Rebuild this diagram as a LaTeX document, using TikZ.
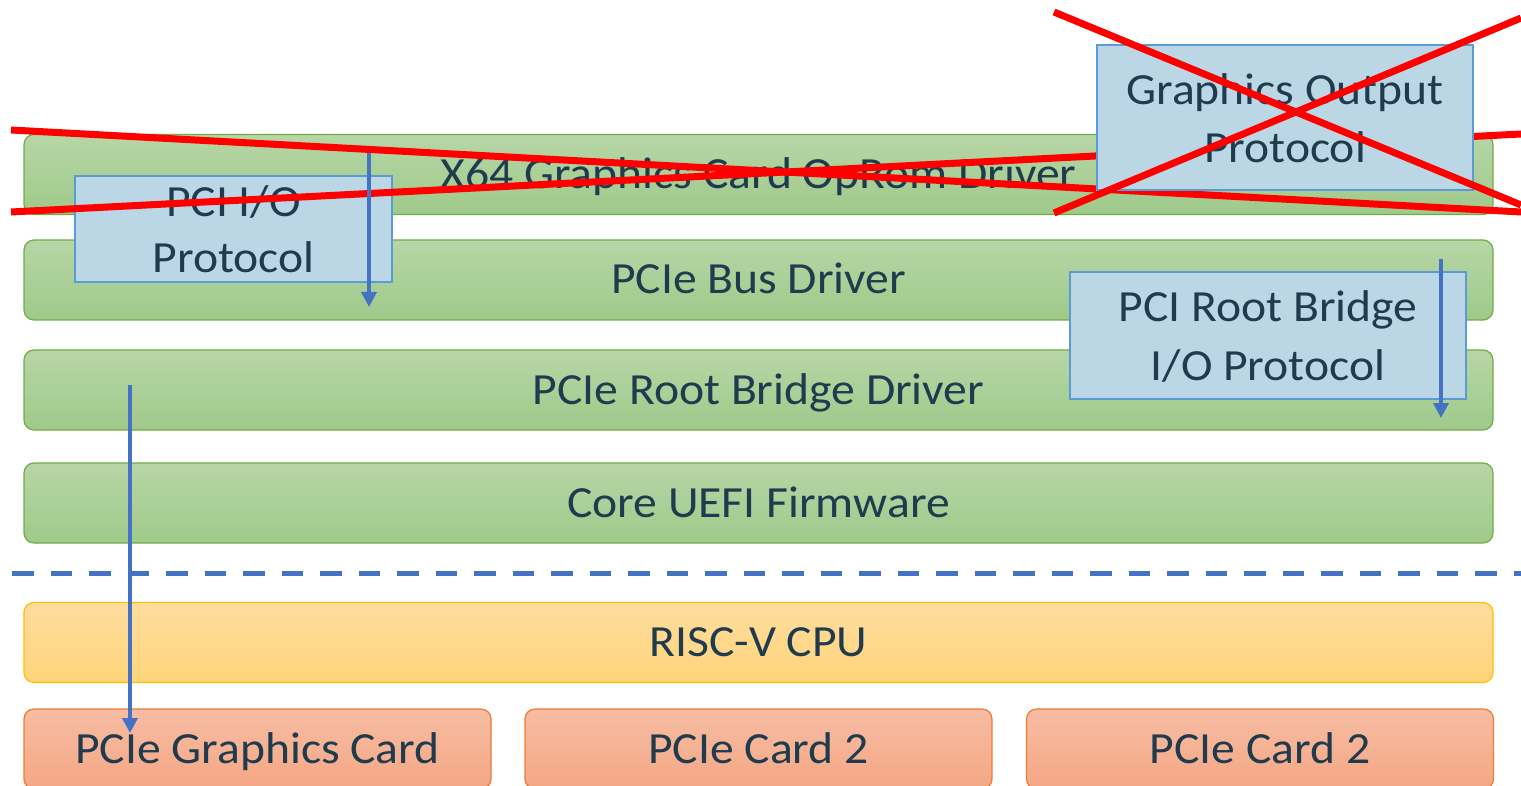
\documentclass[tikz,border=0pt]{standalone}
\usepackage{fontspec}
\setmainfont{Carlito}[FakeStretch=1.07]
\usetikzlibrary{arrows.meta,shadings}
\definecolor{txtc}{HTML}{1F3B4D}
\definecolor{grnT}{HTML}{B7D6A6}
\definecolor{grnB}{HTML}{9FC98A}
\definecolor{grnD}{HTML}{70AD47}
\definecolor{ylwT}{HTML}{FFDC9E}
\definecolor{ylwB}{HTML}{FFD479}
\definecolor{ylwD}{HTML}{FFC000}
\definecolor{orgT}{HTML}{F7BDA4}
\definecolor{orgB}{HTML}{F4A683}
\definecolor{orgD}{HTML}{ED7D31}
\definecolor{protF}{HTML}{BBD7E5}
\definecolor{protD}{HTML}{5B9BD5}
\definecolor{arrc}{HTML}{4472C4}
\tikzset{
  bigfont/.style={font=\fontsize{44.5}{56}\selectfont, text=txtc},
  layer/.style={bigfont, rounded corners=10pt, minimum height=80pt, inner sep=0pt,
    line width=1.2pt, text height=32pt, text depth=4pt},
  greenbar/.style={layer, minimum width=1469pt, draw=grnD, top color=grnT, bottom color=grnB},
  cpubar/.style={layer, minimum width=1469pt, draw=ylwD, top color=ylwT, bottom color=ylwB},
  cardbox/.style={layer, minimum width=467pt, draw=orgD, top color=orgT, bottom color=orgB},
  protbox/.style={draw=protD, fill=protF, line width=2pt, inner sep=0pt},
  ptxt/.style={bigfont, inner sep=0pt, anchor=base},
  flow/.style={draw=arrc, line width=3.5pt, -{Triangle[length=15pt,width=15pt]}},
  sep/.style={draw=arrc, line width=5pt, dash pattern=on 21.5pt off 17pt},
  cross/.style={draw=red, line width=7pt}
}
\begin{document}
\begin{tikzpicture}[x=1pt,y=-1pt]
\useasboundingbox (0,0) rectangle (1521,786);
\clip (0,0) rectangle (1521,786);
\fill[white] (0,0) rectangle (1521,786);

% layers
\node[greenbar] (x64)  at (758.5,174.5) {X64 Graphics Card OpRom Driver};
\node[greenbar] (bus)  at (758.5,280)   {PCIe Bus Driver};
\node[greenbar] (rbd)  at (758.5,390)   {PCIe Root Bridge Driver};
\node[greenbar] (core) at (758.5,503)   {Core UEFI Firmware};
\node[cpubar]   (cpu)  at (758.5,642.5) {RISC-V CPU};
\node[cardbox]  (gfx)  at (257.5,749)   {PCIe Graphics Card};
\node[cardbox]  (card2) at (758.5,749)  {PCIe Card 2};
\node[cardbox]  (card3) at (1260,749)   {PCIe Card 2};

% separator
\coordinate (sepL) at (12,573.5);
\coordinate (sepR) at (1525,573.5);
\draw[sep] (sepL) -- (sepR);

% protocol boxes
\node[protbox, minimum width=317pt, minimum height=106pt] (pciio) at (233.5,229) {};
\node[ptxt] (pciioA) at (233.5,217) {PCI I/O};
\node[ptxt] (pciioB) at (233.5,273) {Protocol};

\node[protbox, minimum width=396pt, minimum height=127pt] (rbio) at (1268,335.5) {};
\node[ptxt] (rbioA) at (1268,322) {PCI Root Bridge};
\node[ptxt] (rbioB) at (1268,380) {I/O Protocol};

% crossing out the X64 driver
\coordinate (lA1) at (11,130);  \coordinate (lA2) at (1521,212);
\coordinate (lB1) at (11,212);  \coordinate (lB2) at (1521,134);
\draw[cross] (lA1) -- (lA2);
\draw[cross] (lB1) -- (lB2);

% arrows
\coordinate (a1s) at (369,153);  \coordinate (a1e) at (369,307);
\coordinate (a2s) at (130,385);  \coordinate (a2e) at (130,733);
\coordinate (a3s) at (1441,259); \coordinate (a3e) at (1441,418);
\draw[flow] (a1s) -- (a1e);
\draw[flow] (a2s) -- (a2e);
\draw[flow] (a3s) -- (a3e);

% graphics output protocol
\node[protbox, minimum width=376pt, minimum height=145pt] (gop) at (1285,117.5) {};
\node[ptxt] (gopA) at (1285,105) {Graphics Output};
\node[ptxt] (gopB) at (1285,163) {Protocol};

\coordinate (x1a) at (1054,12);  \coordinate (x1b) at (1521,205);
\coordinate (x2a) at (1054,213); \coordinate (x2b) at (1521,18);
\draw[cross] (x1a) -- (x1b);
\draw[cross] (x2a) -- (x2b);
\end{tikzpicture}
\end{document}
